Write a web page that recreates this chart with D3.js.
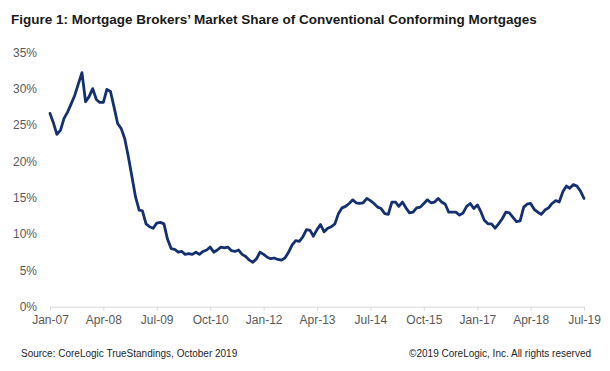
<!DOCTYPE html>
<html>
<head>
<meta charset="utf-8">
<script src="https://cdn.jsdelivr.net/npm/d3@7"></script>
<style>
  body { margin: 0; background: #fff; }
  svg { display: block; font-family: "Liberation Sans", Arial, sans-serif; }
  .y-axis text, .x-axis text { fill: #595959; font-size: 12px; }
</style>
</head>
<body>
<div id="chart"></div>
<script>
// monthly broker share (%), Jan-2007 .. Jul-2019
const startMonth = "2007-01";
const brokerShare = [
  26.6, 25.2, 23.7, 24.3, 25.9, 26.8, 27.9, 29.1, 30.7, 32.2,
  28.2, 28.9, 30.0, 28.5, 28.1, 28.1, 29.9, 29.6, 27.5, 25.2,
  24.5, 23.1, 20.6, 17.9, 15.1, 13.3, 13.2, 11.4, 11.0, 10.8,
  11.5, 11.6, 11.4, 9.3, 8.0, 7.9, 7.5, 7.6, 7.2, 7.3,
  7.2, 7.5, 7.2, 7.6, 7.8, 8.2, 7.5, 7.8, 8.2, 8.1,
  8.2, 7.7, 7.6, 7.8, 7.2, 6.9, 6.4, 6.1, 6.6, 7.5,
  7.2, 6.8, 6.6, 6.7, 6.5, 6.4, 6.7, 7.5, 8.5, 9.1,
  9.0, 9.6, 10.6, 10.5, 9.7, 10.6, 11.3, 10.3, 10.8, 11.0,
  11.4, 12.8, 13.6, 13.8, 14.2, 14.7, 14.3, 14.2, 14.3, 14.9,
  14.6, 14.2, 13.7, 13.5, 12.8, 12.7, 14.4, 14.4, 13.8, 14.4,
  13.6, 12.9, 13.0, 13.6, 13.7, 14.2, 14.7, 14.3, 14.4, 14.9,
  14.4, 14.1, 13.0, 13.0, 13.0, 12.6, 12.9, 13.8, 14.2, 13.5,
  14.0, 13.0, 11.9, 11.4, 11.4, 10.8, 11.4, 12.1, 13.0, 12.9,
  12.3, 11.7, 11.8, 13.7, 14.1, 14.2, 13.4, 13.0, 12.7, 13.3,
  13.6, 14.2, 14.6, 14.4, 15.8, 16.6, 16.3, 16.8, 16.6, 15.9,
  14.9
];
const xTickLabels = ["Jan-07", "Apr-08", "Jul-09", "Oct-10", "Jan-12", "Apr-13",
                     "Jul-14", "Oct-15", "Jan-17", "Apr-18", "Jul-19"];
const yTicks = [0, 5, 10, 15, 20, 25, 30, 35];

const titleText = "Figure 1: Mortgage Brokers\u2019 Market Share of Conventional Conforming Mortgages";
const sourceText = "Source: CoreLogic TrueStandings, October 2019";
const rightsText = "\u00A92019 CoreLogic, Inc. All rights reserved";

const width = 610, height = 371;
const svg = d3.select("#chart").append("svg")
    .attr("width", width)
    .attr("height", height);

const parseMonth = d3.timeParse("%Y-%m");
const parseTick = d3.timeParse("%b-%y");
const start = parseMonth(startMonth);
const data = brokerShare.map((v, i) => ({ date: d3.timeMonth.offset(start, i), value: v }));

let x = d3.scaleTime()
    .domain(d3.extent(data, d => d.date))
    .range([50, 584]);

let y = d3.scaleLinear()
    .domain([0, 35])
    .range([306.7, 52.3]);

// title
svg.append("text")
    .attr("x", 11)
    .attr("y", 23.5)
    .style("font-size", "13.5px")
    .style("font-weight", "bold")
    .style("fill", "#1a1a1a")
    .text(titleText);

// y axis, labels only
let yAxis = svg.append("g")
    .attr("class", "y-axis")
    .attr("transform", "translate(37,0)")
    .call(d3.axisLeft(y)
        .tickValues(yTicks)
        .tickSize(0)
        .tickPadding(0)
        .tickFormat(d => d + "%"));
yAxis.select(".domain").remove();

// x axis
let xAxis = svg.append("g")
    .attr("class", "x-axis")
    .attr("transform", "translate(0," + y(0) + ")")
    .call(d3.axisBottom(x)
        .tickValues(xTickLabels.map(parseTick))
        .tickSize(4)
        .tickSizeOuter(0)
        .tickPadding(5)
        .tickFormat(d3.timeFormat("%b-%y")));
xAxis.select(".domain").attr("stroke", "#d9d9d9");
xAxis.selectAll(".tick line").attr("stroke", "#d9d9d9");

// the series
let line = d3.line()
    .x(d => x(d.date))
    .y(d => y(d.value));

svg.append("path")
    .datum(data)
    .attr("fill", "none")
    .attr("stroke", "#15306e")
    .attr("stroke-width", 2.8)
    .attr("stroke-linejoin", "round")
    .attr("stroke-linecap", "round")
    .attr("d", line);

// footer
svg.append("text")
    .attr("x", 21)
    .attr("y", 357)
    .style("font-size", "10px")
    .style("fill", "#262626")
    .text(sourceText);

svg.append("text")
    .attr("x", 591)
    .attr("y", 357)
    .attr("text-anchor", "end")
    .style("font-size", "10px")
    .style("fill", "#262626")
    .text(rightsText);
</script>
</body>
</html>
